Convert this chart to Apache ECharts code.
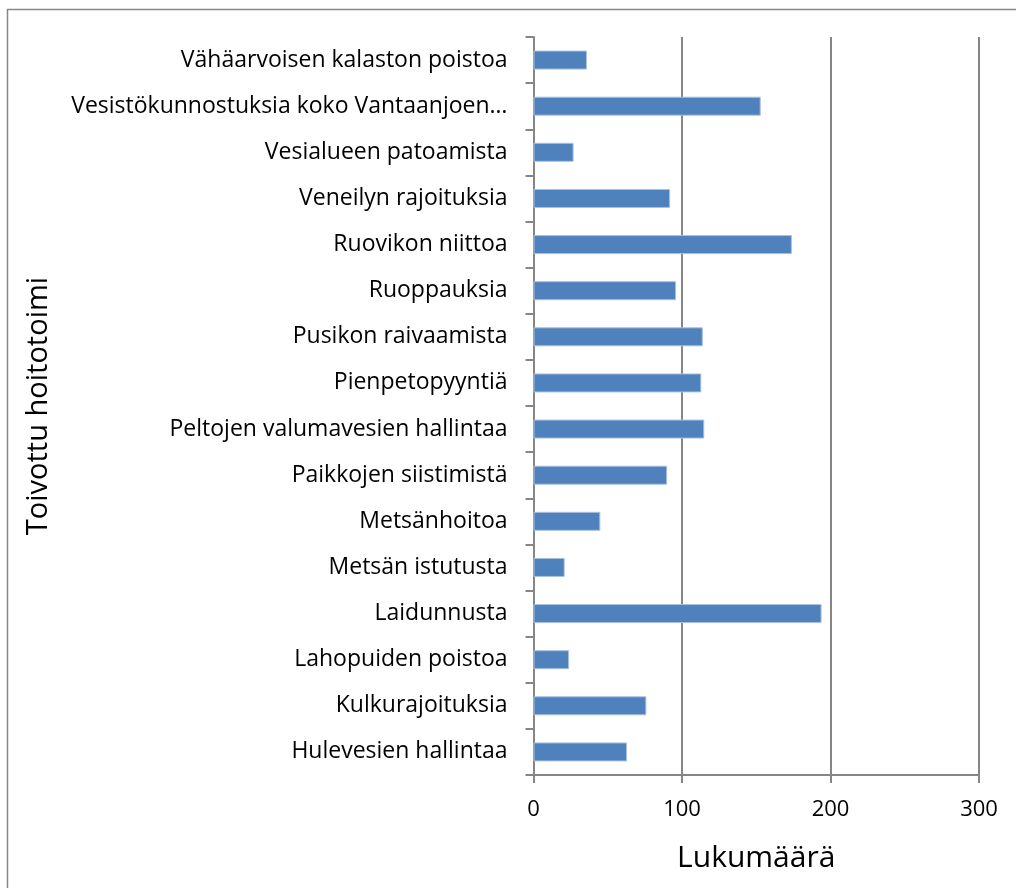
<!DOCTYPE html>
<html><head><meta charset="utf-8">
<script src="https://cdn.jsdelivr.net/npm/echarts@6/dist/echarts.min.js"></script>
<style>html,body{margin:0;padding:0;background:#fff}#c{width:1016px;height:888px}</style>
</head><body><div id="c"></div>
<script>
const categories = [
  "Hulevesien hallintaa",
  "Kulkurajoituksia",
  "Lahopuiden poistoa",
  "Laidunnusta",
  "Metsän istutusta",
  "Metsänhoitoa",
  "Paikkojen siistimistä",
  "Peltojen valumavesien hallintaa",
  "Pienpetopyyntiä",
  "Pusikon raivaamista",
  "Ruoppauksia",
  "Ruovikon niittoa",
  "Veneilyn rajoituksia",
  "Vesialueen patoamista",
  "Vesistökunnostuksia koko Vantaanjoen…",
  "Vähäarvoisen kalaston poistoa"
];
const values = [63, 76, 24, 194, 21, 45, 90, 115, 113, 114, 96, 174, 92, 27, 153, 36];
const xTicks = { min: 0, max: 300, interval: 100 };
const xTitle = "Lukumäärä";
const yTitle = "Toivottu hoitotoimi";

const font = "'Open Sans', sans-serif";
const chart = echarts.init(document.getElementById('c'), null, {renderer: 'canvas'});
chart.setOption({
  animation: false,
  backgroundColor: '#fff',
  graphic: [{
    type: 'rect', left: 5, top: 7, silent: true,
    shape: {x: 0, y: 0, width: 1020, height: 900},
    style: {fill: 'none', stroke: '#868686', lineWidth: 1.5}
  }],
  grid: {left: 533.5, right: 37, top: 37, bottom: 113, containLabel: false},
  xAxis: {
    type: 'value', min: xTicks.min, max: xTicks.max, interval: xTicks.interval,
    name: xTitle, nameLocation: 'middle', nameGap: 68,
    nameTextStyle: {fontFamily: font, fontSize: 30, color: '#000'},
    axisLine: {show: true, lineStyle: {color: '#868686', width: 2}},
    axisTick: {show: true, length: 8, lineStyle: {color: '#868686', width: 2}},
    axisLabel: {fontFamily: font, fontSize: 22, color: '#000', margin: 24},
    splitLine: {show: true, lineStyle: {color: '#868686', width: 2}}
  },
  yAxis: {
    type: 'category', data: categories,
    name: yTitle, nameLocation: 'middle', nameGap: 480, nameRotate: 90,
    nameTextStyle: {fontFamily: font, fontSize: 29, color: '#000'},
    axisLine: {show: true, lineStyle: {color: '#868686', width: 2}},
    axisTick: {show: true, length: 8, alignWithLabel: false, lineStyle: {color: '#868686', width: 2}},
    axisLabel: {fontFamily: font, fontSize: 23, color: '#000', margin: 26},
    splitLine: {show: false}
  },
  series: [{
    type: 'bar', data: values, barWidth: 19,
    itemStyle: {color: '#4F81BD', borderColor: '#A9C1E0', borderWidth: 1}
  }]
});
</script></body></html>
